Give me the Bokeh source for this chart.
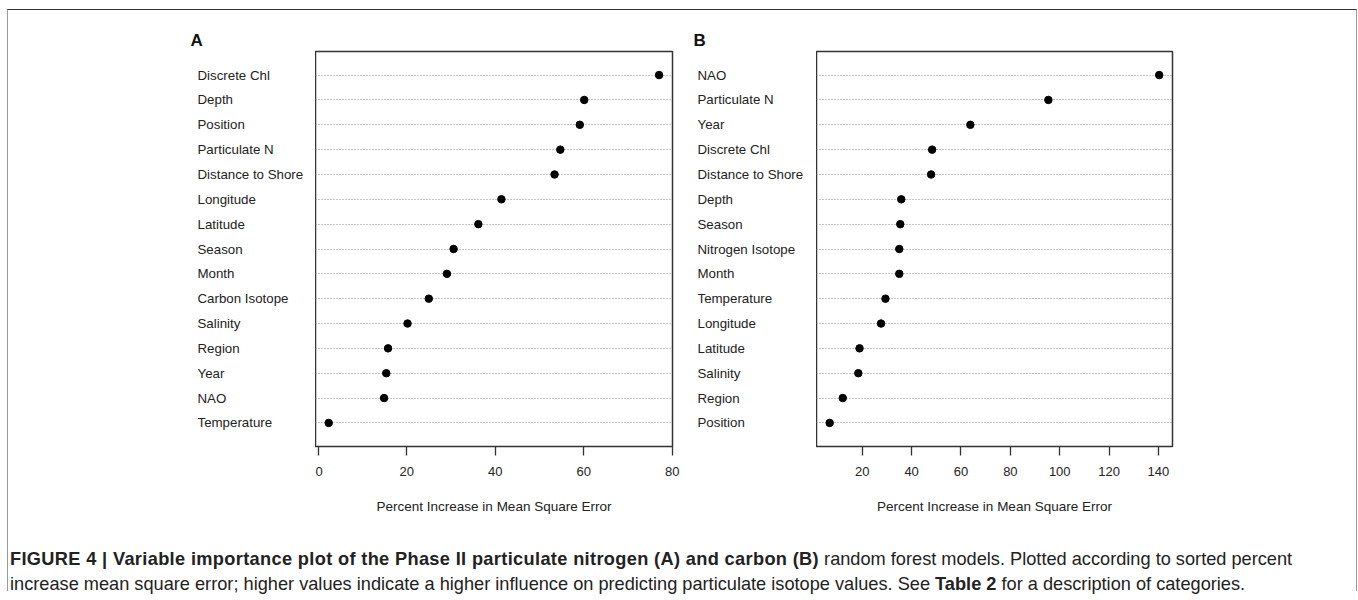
from bokeh.plotting import figure
from bokeh.models import ColumnDataSource, FactorRange, Range1d, SingleIntervalTicker, Div
from bokeh.layouts import row, column
from bokeh.core.properties import value
from bokeh.embed import file_html
from bokeh.resources import INLINE

# Panel A: particulate nitrogen model
vars_a = ["Discrete Chl", "Depth", "Position", "Particulate N", "Distance to Shore",
          "Longitude", "Latitude", "Season", "Month", "Carbon Isotope", "Salinity",
          "Region", "Year", "NAO", "Temperature"]
vals_a = [77.0, 60.1, 59.1, 54.7, 53.4, 41.4, 36.2, 30.6, 29.1, 25.0, 20.2,
          15.8, 15.4, 14.9, 2.4]

# Panel B: particulate carbon model
vars_b = ["NAO", "Particulate N", "Year", "Discrete Chl", "Distance to Shore", "Depth",
          "Season", "Nitrogen Isotope", "Month", "Temperature", "Longitude", "Latitude",
          "Salinity", "Region", "Position"]
vals_b = [140.3, 95.4, 63.8, 48.3, 47.9, 35.8, 35.4, 35.0, 35.0, 29.4, 27.6, 18.9,
          18.4, 12.1, 6.8]

x_title = "Percent Increase in Mean Square Error"
FONT = "Liberation Sans"
TOP = 41
BOTTOM = 84
FRAME_H = 395


def label_fig(letter, src, yr, left_border, frame_w, title_offset):
    f = figure(y_range=yr, x_range=Range1d(0, 1), frame_width=frame_w, frame_height=FRAME_H,
               min_border_left=left_border, min_border_right=0,
               min_border_top=TOP, min_border_bottom=BOTTOM,
               output_backend="svg", toolbar_location=None, title=letter)
    f.title.text_font = FONT
    f.title.text_font_size = "17px"
    f.title.text_font_style = "bold"
    f.title.text_color = "#111111"
    f.title.align = "left"
    f.title.offset = title_offset
    f.title.standoff = 3
    f.xaxis.visible = False
    f.yaxis.visible = False
    f.xgrid.visible = False
    f.ygrid.visible = False
    f.outline_line_color = None
    f.border_fill_color = "white"
    f.background_fill_color = "white"
    f.text(x=0, y="name", text="name", source=src, text_align="left", text_baseline="middle",
           text_font=value(FONT), text_font_size="13.3px", text_color="#222222")
    return f


def panel(names, vals, frame_w, right_border):
    lo, hi = min(vals), max(vals)
    pad = 0.04 * (hi - lo)
    src = ColumnDataSource(dict(name=names, val=vals))
    yr = FactorRange(*reversed(names), range_padding=0.06, range_padding_units="percent")
    p = figure(
        y_range=yr,
        x_range=Range1d(lo - pad, hi + pad + 0.05),
        frame_width=frame_w, frame_height=FRAME_H,
        min_border_left=0, min_border_right=right_border,
        min_border_top=TOP, min_border_bottom=BOTTOM,
        output_backend="svg", toolbar_location=None,
    )
    p.outline_line_color = "#333333"
    p.outline_line_width = 1.5
    p.outline_line_alpha = 1.0
    p.background_fill_color = "white"
    p.border_fill_color = "white"

    p.xgrid.visible = False
    p.ygrid.grid_line_color = "#8f8f8f"
    p.ygrid.grid_line_dash = "1 2"
    p.ygrid.grid_line_width = 1

    p.yaxis.visible = False

    ax = p.xaxis[0]
    ax.ticker = SingleIntervalTicker(interval=20, num_minor_ticks=0)
    ax.axis_line_color = None
    ax.major_tick_in = 0
    ax.major_tick_out = 9
    ax.major_tick_line_color = "#333333"
    ax.major_tick_line_width = 1.3
    ax.minor_tick_line_color = None
    ax.major_label_standoff = 11
    ax.major_label_text_font = FONT
    ax.major_label_text_font_size = "13px"
    ax.major_label_text_color = "#222222"
    ax.axis_label = x_title
    ax.axis_label_standoff = 20
    ax.axis_label_text_font = FONT
    ax.axis_label_text_font_size = "13.5px"
    ax.axis_label_text_font_style = "normal"
    ax.axis_label_text_color = "#222222"

    p.scatter(x="val", y="name", source=src, size=7.5, color="black", line_color="black")
    return p, src, yr


pA, srcA, yrA = panel(vars_a, vals_a, 357, 18)
pB, srcB, yrB = panel(vars_b, vals_b, 356, 184)
lA = label_fig("A", srcA, yrA, 189, 118, -7)
lB = label_fig("B", srcB, yrB, 7, 119, -4)

caption_html = (
    '<div style="font-family:\'Liberation Sans\',Arial,sans-serif;font-size:18.2px;'
    'line-height:25px;color:#222;padding:17px 0 0 2px;white-space:nowrap;">'
    '<b style="letter-spacing:0.35px">FIGURE 4 | Variable importance plot of the Phase II '
    'particulate nitrogen (A) and carbon (B)</b>'
    ' random forest models. Plotted according to sorted percent<br>'
    'increase mean square error; higher values indicate a higher influence on predicting '
    'particulate isotope values. See <b>Table 2</b> for a description of categories.'
    '</div>'
)
cap = Div(text=caption_html, width=1348, height=61, margin=(0, 0, 0, 0))

layout = column(
    row(lA, pA, lB, pB),
    cap,
    margin=(9, 0, 0, 7),
    styles={"border-top": "1px solid #333333", "border-left": "1px solid #999999",
            "border-right": "1px solid #999999", "background-color": "white"},
)

open("out.html", "w").write(file_html(layout, INLINE))
